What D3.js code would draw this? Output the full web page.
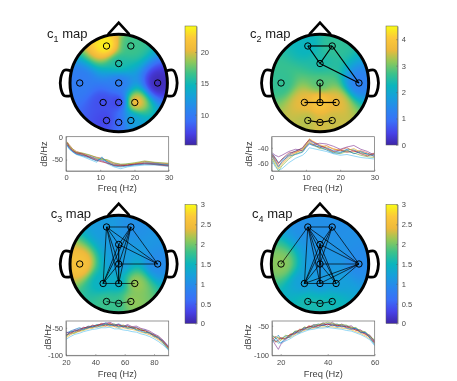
<!DOCTYPE html>
<html>
<head>
<meta charset="utf-8">
<script src="https://cdn.jsdelivr.net/npm/d3@7"></script>
<style>
	html, body { margin: 0; padding: 0; background: #fff; }
	svg { display: block; font-family: "Liberation Sans", Arial, sans-serif; filter: blur(0.35px); }
	.axis path, .axis line { stroke: #5a5a5a; stroke-width: 0.5; }
	.axis text { fill: #4a4a4a; font-size: 7.5px; }
</style>
</head>
<body>
<svg width="457" height="381"></svg>
<script>
// electrode layout in head units (radius = 1)
var channelNames = ['Fp1', 'Fp2', 'Fz', 'T7', 'Cz', 'T8', 'P3', 'Pz', 'P4', 'O1', 'Oz', 'O2'];
var channelX = [-0.25, 0.25, 0, -0.8, 0, 0.8, -0.32, 0, 0.33, -0.25, 0, 0.25];
var channelY = [-0.76, -0.76, -0.4, 0, 0, 0, 0.4, 0.4, 0.4, 0.77, 0.81, 0.77];

// map values at the electrodes
var c1Values = [24, 16.5, 15.5, 10, 10, 5.5, 7.5, 6.5, 22, 7, 8.5, 13];
var c2Values = [2.2, 2.6, 2.4, 2.6, 2.8, 1.2, 3.6, 4.1, 3.6, 3.3, 3.5, 3.4];
var c3Values = [1.15, 1, 1.1, 2.6, 1.1, 0.95, 1.4, 1.35, 2.2, 1.8, 1.75, 2.15];
var c4Values = [1, 1, 1.05, 2.1, 1.05, 0.95, 1.2, 1.1, 1.2, 1.6, 1.6, 1.55];

var c1Range = [5.16, 24.15];
var c2Range = [0, 4.5];
var c3Range = [0, 3];
var c4Range = [0, 3];

var c1Ticks = [10, 15, 20];
var c2Ticks = [0, 1, 2, 3, 4];
var c3Ticks = [0, 0.5, 1, 1.5, 2, 2.5, 3];
var c4Ticks = [0, 0.5, 1, 1.5, 2, 2.5, 3];

// connections between electrodes
var c1Links = [];
var c2Links = [['Fp1', 'Fp2'], ['Fp1', 'Fz'], ['Fp2', 'Fz'], ['Fp2', 'T8'], ['Fz', 'T8'], ['Cz', 'Pz'], ['P3', 'Pz'], ['Pz', 'P4'], ['O1', 'Oz'], ['Oz', 'O2']];
var c3Links = [['Fp1', 'Fp2'], ['Fp1', 'Fz'], ['Fp1', 'Cz'], ['Fp1', 'T8'], ['Fp1', 'P3'], ['Fp1', 'Pz'], ['Fp2', 'Fz'], ['Fp2', 'Cz'], ['Fp2', 'T8'], ['Fp2', 'P3'], ['Fp2', 'Pz'], ['Fz', 'Cz'], ['Fz', 'T8'], ['Fz', 'P3'], ['Fz', 'Pz'], ['Cz', 'T8'], ['Cz', 'P3'], ['Cz', 'Pz'], ['P3', 'Pz'], ['Pz', 'P4'], ['O1', 'Oz'], ['Oz', 'O2']];
var c4Links = [['Fp1', 'Fp2'], ['Fp1', 'T7'], ['Fp1', 'Fz'], ['Fp1', 'Cz'], ['Fp1', 'T8'], ['Fp1', 'P3'], ['Fp1', 'Pz'], ['Fp1', 'P4'], ['Fp2', 'Fz'], ['Fp2', 'Cz'], ['Fp2', 'T8'], ['Fp2', 'P3'], ['Fz', 'Cz'], ['Fz', 'T8'], ['Fz', 'P3'], ['Fz', 'Pz'], ['Fz', 'P4'], ['Cz', 'T8'], ['Cz', 'P3'], ['Cz', 'Pz'], ['Cz', 'P4'], ['T8', 'P3'], ['T8', 'Pz'], ['T8', 'P4'], ['P3', 'Pz'], ['Pz', 'P4'], ['O1', 'Oz'], ['Oz', 'O2']];

// spectra
var c1Freq = [0.3, 1, 2, 3, 5, 7, 9, 10.5, 12, 14, 16, 18, 20, 23, 26, 30];
var c1Spectra = [
	[-13, -21, -30, -35, -39, -43, -48, -51, -54, -60, -63, -60, -60, -56, -58, -61],
	[-11, -18, -27, -32, -37, -41, -45, -47, -52, -58, -61, -62, -59, -54, -57, -59],
	[-15, -22, -29, -36, -40, -45, -49, -48, -53, -61, -64, -60, -58, -57, -60, -62],
	[-17, -25, -32, -37, -41, -44, -50, -53, -57, -62, -62, -63, -61, -58, -59, -63],
	[-12, -20, -28, -34, -36, -40, -46, -50, -50, -57, -60, -59, -57, -53, -56, -58],
	[-20, -28, -34, -39, -44, -50, -56, -44, -59, -66, -70, -66, -64, -62, -62, -65],
	[-14, -23, -31, -35, -38, -46, -52, -55, -58, -63, -64, -62, -60, -59, -61, -64],
	[-18, -26, -33, -38, -42, -47, -53, -46, -55, -64, -66, -64, -62, -60, -60, -62]
];

var c2Freq = [0.2, 1, 2, 3, 5, 7, 9, 10, 11, 12, 14, 16, 18, 20, 22, 24, 26, 28, 30];
var c2Spectra = [
	[-48, -53, -60, -56, -49, -44, -41, -35, -30, -33, -38, -40, -44, -46, -42, -43, -47, -48, -49],
	[-50, -56, -64, -60, -50, -46, -43, -37, -31, -35, -40, -37, -42, -43, -40, -45, -44, -47, -52],
	[-52, -60, -68, -62, -53, -47, -42, -36, -28, -31, -36, -39, -41, -44, -44, -41, -46, -50, -48],
	[-47, -50, -52, -50, -45, -42, -44, -39, -34, -36, -34, -35, -38, -42, -39, -37, -42, -45, -50],
	[-55, -63, -71, -64, -55, -48, -45, -38, -33, -36, -41, -42, -46, -48, -45, -47, -50, -52, -53],
	[-58, -65, -70, -68, -60, -54, -50, -46, -40, -41, -43, -45, -48, -50, -49, -51, -53, -54, -55],
	[-49, -54, -61, -55, -47, -45, -40, -34, -29, -32, -37, -41, -45, -43, -46, -44, -48, -51, -47],
	[-51, -58, -66, -58, -51, -49, -46, -40, -35, -37, -39, -43, -47, -47, -43, -48, -45, -49, -51]
];

var c3Freq = [20, 23, 26, 29, 32, 35, 38, 41, 44, 47, 50, 53, 56, 59, 62, 65, 68, 71, 74, 77, 80, 83, 86, 89, 90];
var c3Spectra = [
	[-60, -56, -53, -50, -52, -47, -48, -44, -45, -41, -44, -45, -43, -47, -46, -50, -49, -54, -54, -59, -62, -68, -73, -82, -85],
	[-64, -58, -58, -53, -50, -50, -45, -47, -42, -44, -42, -46, -47, -45, -49, -48, -52, -52, -57, -58, -64, -66, -75, -84, -86],
	[-68, -63, -59, -57, -55, -52, -51, -48, -49, -46, -48, -48, -51, -50, -52, -53, -55, -58, -60, -63, -67, -72, -78, -86, -89],
	[-58, -59, -54, -54, -49, -51, -46, -46, -43, -42, -40, -44, -44, -48, -44, -48, -47, -51, -53, -56, -61, -65, -72, -81, -84],
	[-66, -60, -60, -55, -54, -49, -50, -45, -47, -44, -45, -43, -48, -46, -50, -49, -53, -53, -58, -60, -65, -69, -76, -85, -88],
	[-71, -66, -62, -60, -57, -55, -53, -52, -50, -50, -49, -52, -52, -54, -55, -57, -58, -61, -63, -66, -70, -75, -81, -88, -92],
	[-62, -61, -55, -56, -51, -48, -49, -46, -44, -47, -43, -47, -45, -49, -47, -51, -50, -55, -55, -61, -63, -70, -74, -83, -87],
	[-65, -57, -57, -52, -53, -50, -47, -49, -46, -43, -46, -45, -49, -47, -51, -50, -54, -56, -59, -59, -66, -67, -77, -87, -90]
];

var c4Freq = [16.5, 18, 19, 20, 22, 24, 26, 28, 30, 32, 34, 36, 38, 40, 42, 44, 46, 48, 50, 52, 54, 56, 58, 60];
var c4Spectra = [
	[-68, -70, -66, -72, -68, -66, -60, -58, -54, -52, -50, -47, -50, -46, -49, -47, -51, -50, -54, -55, -60, -62, -69, -75],
	[-72, -68, -72, -70, -72, -64, -63, -56, -56, -50, -52, -49, -47, -48, -47, -50, -49, -53, -52, -58, -58, -65, -67, -77],
	[-75, -76, -78, -74, -70, -70, -65, -61, -58, -55, -54, -52, -52, -51, -52, -53, -54, -55, -57, -60, -63, -67, -72, -80],
	[-74, -84, -90, -82, -74, -67, -61, -60, -53, -53, -48, -50, -45, -49, -44, -51, -47, -52, -50, -56, -57, -63, -66, -78],
	[-66, -72, -69, -75, -66, -68, -59, -59, -52, -54, -49, -48, -46, -44, -46, -48, -48, -49, -53, -53, -59, -60, -68, -74],
	[-78, -74, -80, -78, -76, -72, -67, -63, -60, -57, -56, -54, -54, -53, -54, -55, -56, -58, -59, -62, -65, -69, -74, -84],
	[-70, -78, -74, -71, -73, -65, -64, -57, -57, -51, -53, -50, -49, -47, -50, -49, -52, -51, -55, -57, -61, -64, -70, -79],
	[-76, -71, -76, -80, -71, -69, -62, -62, -55, -56, -51, -53, -48, -52, -48, -52, -50, -54, -56, -54, -62, -61, -71, -82]
];

var parulaStops = ['#3e26a8', '#4742e8', '#3a6ff8', '#2a86ee', '#179fdc', '#0bb5bd', '#3cc28a', '#90c85a', '#eeb93c', '#fcc83a', '#f9fb15'];
var lineColors = ['#0072bd', '#d95319', '#edb120', '#7e2f8e', '#77ac30', '#4dbeee', '#a2142f'];

var panels = [
	{ sub: '1', values: c1Values, range: c1Range, ticks: c1Ticks, links: c1Links, linkWidth: 1, freq: c1Freq, spectra: c1Spectra,
		cx: 118.7, cy: 83, barX: 185, barY: 26, titleX: 47, titleY: 38,
		plotX: 66, plotY: 136.7, xDomain: [0, 30], yDomain: [-75, 0], xTicks: [0, 10, 20, 30], yTicks: [-50, 0], labelX: 44, labelY: 154, freqY: 188 },
	{ sub: '2', values: c2Values, range: c2Range, ticks: c2Ticks, links: c2Links, linkWidth: 1.2, freq: c2Freq, spectra: c2Spectra,
		cx: 320, cy: 83, barX: 386, barY: 26, titleX: 250, titleY: 38,
		plotX: 271.7, plotY: 136.7, xDomain: [0, 30], yDomain: [-71, -25.3], xTicks: [0, 10, 20, 30], yTicks: [-60, -40], labelX: 249, labelY: 154, freqY: 188 },
	{ sub: '3', values: c3Values, range: c3Range, ticks: c3Ticks, links: c3Links, linkWidth: 0.7, freq: c3Freq, spectra: c3Spectra,
		cx: 118.7, cy: 264, barX: 185, barY: 204.5, titleX: 50.7, titleY: 217.7,
		plotX: 66, plotY: 321, xDomain: [20, 90], yDomain: [-100, -37.7], xTicks: [20, 40, 60, 80], yTicks: [-100, -50], labelX: 48, labelY: 337, freqY: 374 },
	{ sub: '4', values: c4Values, range: c4Range, ticks: c4Ticks, links: c4Links, linkWidth: 0.7, freq: c4Freq, spectra: c4Spectra,
		cx: 320, cy: 264, barX: 386, barY: 204.5, titleX: 252, titleY: 217.7,
		plotX: 272, plotY: 321, xDomain: [16.3, 60], yDomain: [-100, -42], xTicks: [20, 40, 60], yTicks: [-100, -50], labelX: 248, labelY: 337, freqY: 374 }
];

var headRadius = 48.7, barWidth = 11.7, barHeight = 119, plotWidth = 102.7, plotHeight = 34.3;

var svg = d3.select('svg');
var defs = svg.append('defs');

var parula = d3.scaleLinear()
	.domain(parulaStops.map(function (d, i) { return i / (parulaStops.length - 1); }))
	.range(parulaStops);

// inverse distance blend between the electrodes
function blend(values, ux, uy) {
	var top = 0, bottom = 0;
	for (var i = 0; i < values.length; i++) {
		var dx = ux - channelX[i], dy = uy - channelY[i];
		var w = 1 / Math.pow(dx * dx + dy * dy + 0.03, 1.9);
		top += w * values[i];
		bottom += w;
	}
	return top / bottom;
}

function drawMap(g, p, index) {
	var color = d3.scaleLinear().domain(p.range).range([0, 1]).clamp(true);
	var size = Math.ceil(headRadius * 2);
	var canvas = document.createElement('canvas');
	canvas.width = size;
	canvas.height = size;
	var ctx = canvas.getContext('2d');
	var image = ctx.createImageData(size, size);
	for (var py = 0; py < size; py++) {
		for (var px = 0; px < size; px++) {
			var v = blend(p.values, (px + 0.5) / headRadius - 1, (py + 0.5) / headRadius - 1);
			var c = d3.rgb(parula(color(v)));
			var o = (py * size + px) * 4;
			image.data[o] = c.r;
			image.data[o + 1] = c.g;
			image.data[o + 2] = c.b;
			image.data[o + 3] = 255;
		}
	}
	ctx.putImageData(image, 0, 0);

	defs.append('clipPath').attr('id', 'head' + index)
		.append('circle').attr('r', headRadius);

	g.append('image')
		.attr('x', -headRadius).attr('y', -headRadius)
		.attr('width', size).attr('height', size)
		.attr('clip-path', 'url(#head' + index + ')')
		.attr('href', canvas.toDataURL());

	var hx = d3.scaleLinear().domain([-1, 1]).range([-headRadius, headRadius]);
	var hy = d3.scaleLinear().domain([-1, 1]).range([-headRadius, headRadius]);
	var outline = d3.line()
		.x(function (d) { return hx(d[0]); })
		.y(function (d) { return hy(d[1]); });

	g.append('circle').attr('r', headRadius)
		.attr('fill', 'none').attr('stroke', '#000').attr('stroke-width', 3);

	// nose
	g.append('path')
		.attr('d', outline([[-0.22, -1], [0, -1.24], [0.22, -1]]))
		.attr('fill', 'none').attr('stroke', '#000').attr('stroke-width', 2.6);

	// ears
	[-1, 1].forEach(function (side) {
		var ear = [[0.98, -0.25], [1.12, -0.26], [1.19, -0.1], [1.19, 0.1], [1.12, 0.26], [0.98, 0.26]];
		g.append('path')
			.attr('d', outline.curve(d3.curveCatmullRom)(ear.map(function (d) { return [side * d[0], d[1]]; })))
			.attr('fill', 'none').attr('stroke', '#000').attr('stroke-width', 2.8);
		outline.curve(d3.curveLinear);
	});

	// links
	g.selectAll('.link').data(p.links).enter().append('line')
		.attr('class', 'link')
		.attr('x1', function (d) { return hx(channelX[channelNames.indexOf(d[0])]); })
		.attr('y1', function (d) { return hy(channelY[channelNames.indexOf(d[0])]); })
		.attr('x2', function (d) { return hx(channelX[channelNames.indexOf(d[1])]); })
		.attr('y2', function (d) { return hy(channelY[channelNames.indexOf(d[1])]); })
		.attr('stroke', '#000')
		.attr('stroke-width', p.linkWidth);

	// electrodes
	g.selectAll('.chan').data(channelNames).enter().append('circle')
		.attr('class', 'chan')
		.attr('cx', function (d, i) { return hx(channelX[i]); })
		.attr('cy', function (d, i) { return hy(channelY[i]); })
		.attr('r', 3.2)
		.attr('fill', 'none')
		.attr('stroke', '#000')
		.attr('stroke-width', 1);
}

function drawColorbar(p, index) {
	var grad = defs.append('linearGradient').attr('id', 'bar' + index)
		.attr('x1', 0).attr('y1', 1).attr('x2', 0).attr('y2', 0);
	parulaStops.forEach(function (c, i) {
		grad.append('stop').attr('offset', i / (parulaStops.length - 1)).attr('stop-color', c);
	});
	var g = svg.append('g').attr('transform', 'translate(' + p.barX + ',' + p.barY + ')');
	g.append('rect').attr('width', barWidth).attr('height', barHeight)
		.attr('fill', 'url(#bar' + index + ')');
	var y = d3.scaleLinear().domain(p.range).range([barHeight, 0]);
	g.append('g').attr('class', 'axis')
		.attr('transform', 'translate(' + barWidth + ',0)')
		.call(d3.axisRight(y).tickValues(p.ticks).tickFormat(String).tickSizeInner(-1.5).tickSizeOuter(0).tickPadding(4));
	g.append('rect').attr('width', barWidth).attr('height', barHeight)
		.attr('fill', 'none').attr('stroke', '#5a5a5a').attr('stroke-width', 0.5);
}

function drawSpectra(p, index) {
	var g = svg.append('g').attr('transform', 'translate(' + p.plotX + ',' + p.plotY + ')');
	var x = d3.scaleLinear().domain(p.xDomain).range([0, plotWidth]);
	var y = d3.scaleLinear().domain(p.yDomain).range([plotHeight, 0]);

	defs.append('clipPath').attr('id', 'plot' + index)
		.append('rect').attr('width', plotWidth).attr('height', plotHeight);

	var valueline = d3.line()
		.x(function (d, i) { return x(p.freq[i]); })
		.y(function (d) { return y(d); });

	g.append('g').attr('clip-path', 'url(#plot' + index + ')')
		.selectAll('path').data(p.spectra).enter().append('path')
		.attr('d', valueline)
		.attr('fill', 'none')
		.attr('stroke', function (d, i) { return lineColors[i % lineColors.length]; })
		.attr('stroke-width', 0.6);

	g.append('g').attr('class', 'axis')
		.attr('transform', 'translate(0,' + plotHeight + ')')
		.call(d3.axisBottom(x).tickValues(p.xTicks).tickFormat(String).tickSizeInner(-1.2).tickSizeOuter(0).tickPadding(4));
	g.append('g').attr('class', 'axis')
		.call(d3.axisLeft(y).tickValues(p.yTicks).tickFormat(String).tickSizeInner(-1.2).tickSizeOuter(0).tickPadding(3));
	g.append('rect').attr('width', plotWidth).attr('height', plotHeight)
		.attr('fill', 'none').attr('stroke', '#6a6a6a').attr('stroke-width', 0.7);

	svg.append('text')
		.attr('x', p.plotX + plotWidth / 2)
		.attr('y', p.freqY + 3.3)
		.attr('text-anchor', 'middle')
		.style('font-size', '9.3px')
		.style('fill', '#404040')
		.text('Freq (Hz)');

	svg.append('text')
		.attr('transform', 'translate(' + p.labelX + ',' + p.labelY + ') rotate(-90)')
		.attr('text-anchor', 'middle')
		.attr('dy', '0.35em')
		.style('font-size', '9.3px')
		.style('fill', '#404040')
		.text('dB/Hz');
}

panels.forEach(function (p, i) {
	var head = svg.append('g').attr('transform', 'translate(' + p.cx + ',' + p.cy + ')');
	drawMap(head, p, i);
	drawColorbar(p, i);
	drawSpectra(p, i);

	var title = svg.append('text')
		.attr('x', p.titleX)
		.attr('y', p.titleY)
		.style('font-size', '13px')
		.style('fill', '#1a1a1a');
	title.append('tspan').text('c');
	title.append('tspan').attr('dy', 4).style('font-size', '9px').text(p.sub);
	title.append('tspan').attr('dy', -4).text(' map');
});
</script>
</body>
</html>
